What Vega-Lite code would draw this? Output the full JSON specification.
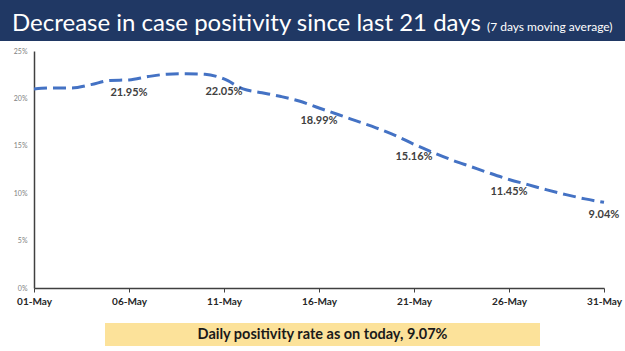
{
  "$schema": "https://vega.github.io/schema/vega-lite/v6.json",
  "background": "white",
  "padding": 0,
  "spacing": 6,
  "config": {"view": {"stroke": null}, "font": "Lato", "concat": {"spacing": 0}},
  "datasets": {
    "series": [
      {"date": "2021-05-01", "v": 21.0, "label": ""},
      {"date": "2021-05-02", "v": 21.1, "label": ""},
      {"date": "2021-05-03", "v": 21.1, "label": ""},
      {"date": "2021-05-04", "v": 21.45, "label": ""},
      {"date": "2021-05-05", "v": 21.9, "label": ""},
      {"date": "2021-05-06", "v": 21.95, "label": "21.95%"},
      {"date": "2021-05-07", "v": 22.3, "label": ""},
      {"date": "2021-05-08", "v": 22.55, "label": ""},
      {"date": "2021-05-09", "v": 22.6, "label": ""},
      {"date": "2021-05-10", "v": 22.55, "label": ""},
      {"date": "2021-05-11", "v": 22.05, "label": "22.05%"},
      {"date": "2021-05-12", "v": 21.0, "label": ""},
      {"date": "2021-05-13", "v": 20.6, "label": ""},
      {"date": "2021-05-14", "v": 20.2, "label": ""},
      {"date": "2021-05-15", "v": 19.7, "label": ""},
      {"date": "2021-05-16", "v": 18.99, "label": "18.99%"},
      {"date": "2021-05-17", "v": 18.3, "label": ""},
      {"date": "2021-05-18", "v": 17.6, "label": ""},
      {"date": "2021-05-19", "v": 16.9, "label": ""},
      {"date": "2021-05-20", "v": 16.1, "label": ""},
      {"date": "2021-05-21", "v": 15.16, "label": "15.16%"},
      {"date": "2021-05-22", "v": 14.3, "label": ""},
      {"date": "2021-05-23", "v": 13.5, "label": ""},
      {"date": "2021-05-24", "v": 12.8, "label": ""},
      {"date": "2021-05-25", "v": 12.1, "label": ""},
      {"date": "2021-05-26", "v": 11.45, "label": "11.45%"},
      {"date": "2021-05-27", "v": 10.9, "label": ""},
      {"date": "2021-05-28", "v": 10.35, "label": ""},
      {"date": "2021-05-29", "v": 9.85, "label": ""},
      {"date": "2021-05-30", "v": 9.4, "label": ""},
      {"date": "2021-05-31", "v": 9.04, "label": "9.04%"}
    ],
    "heading": [
      {"part": "main", "text": "Decrease in case positivity since last 21 days"},
      {"part": "note", "text": "(7 days moving average)"}
    ],
    "footer": [
      {"text": "Daily positivity rate as on today, 9.07%"}
    ],
    "nothing": []
  },
  "vconcat": [
    {
      "width": 625,
      "height": 41,
      "view": {"fill": "#203864", "stroke": null},
      "data": {"name": "heading"},
      "mark": {"type": "text", "align": "left", "baseline": "alphabetic", "dy": 10, "color": "white"},
      "encoding": {
        "x": {"field": "part", "type": "nominal", "axis": null,
              "scale": {"type": "point", "domain": ["main", "note"], "range": [12, 487], "padding": 0}},
        "size": {"field": "part", "type": "nominal", "legend": null,
                 "scale": {"domain": ["main", "note"], "range": [24, 12]}},
        "text": {"field": "text"}
      }
    },
    {
      "hconcat": [
        {
          "width": 1,
          "height": 237,
          "data": {"name": "nothing"},
          "mark": "text",
          "encoding": {}
        },
        {
          "width": 570,
          "height": 237,
          "data": {"name": "series"},
          "layer": [
            {
              "mark": {"type": "line", "interpolate": "monotone", "strokeDash": [13, 6], "strokeWidth": 3, "color": "#4472C4"},
              "encoding": {
                "x": {"field": "date", "type": "temporal",
                      "scale": {"type": "utc", "domain": [{"year": 2021, "month": 5, "date": 1, "utc": true}, {"year": 2021, "month": 5, "date": 31, "utc": true}], "nice": false},
                      "axis": {"title": null, "labelExpr": "utcFormat(datum.value, '%d-%b')",
                               "values": [
                                 {"year": 2021, "month": 5, "date": 1, "utc": true},
                                 {"year": 2021, "month": 5, "date": 6, "utc": true},
                                 {"year": 2021, "month": 5, "date": 11, "utc": true},
                                 {"year": 2021, "month": 5, "date": 16, "utc": true},
                                 {"year": 2021, "month": 5, "date": 21, "utc": true},
                                 {"year": 2021, "month": 5, "date": 26, "utc": true},
                                 {"year": 2021, "month": 5, "date": 31, "utc": true}
                               ],
                               "grid": false, "domainColor": "#404040", "domainWidth": 1.5,
                               "tickColor": "#404040", "tickSize": 4, "labelPadding": 4,
                               "labelFont": "Lato", "labelFontWeight": "bold", "labelFontSize": 10,
                               "labelColor": "#262626", "labelFlush": false,
                               "minExtent": 29, "maxExtent": 29}},
                "y": {"field": "v", "type": "quantitative",
                      "scale": {"domain": [0, 25], "nice": false},
                      "axis": {"title": null, "values": [0, 5, 10, 15, 20, 25], "labelExpr": "datum.value + '%'",
                               "grid": false, "ticks": false, "domainColor": "#404040", "domainWidth": 1.5,
                               "labelFontSize": 7, "labelColor": "#7f7f7f", "labelPadding": 7,
                               "minExtent": 33, "maxExtent": 33}}
              }
            },
            {
              "mark": {"type": "text", "dy": 13, "baseline": "middle", "fontWeight": "bold", "fontSize": 11, "color": "#404040"},
              "encoding": {
                "x": {"field": "date", "type": "temporal"},
                "y": {"field": "v", "type": "quantitative"},
                "text": {"field": "label"}
              }
            }
          ]
        }
      ]
    },
    {
      "hconcat": [
        {
          "width": 105,
          "height": 23,
          "data": {"name": "nothing"},
          "mark": "text",
          "encoding": {}
        },
        {
          "width": 435,
          "height": 23,
          "view": {"fill": "#FCE29A", "stroke": null},
          "data": {"name": "footer"},
          "mark": {"type": "text", "fontWeight": "bold", "fontSize": 14.5, "color": "#1a1a1a"},
          "encoding": {"text": {"field": "text"}}
        }
      ]
    }
  ]
}
